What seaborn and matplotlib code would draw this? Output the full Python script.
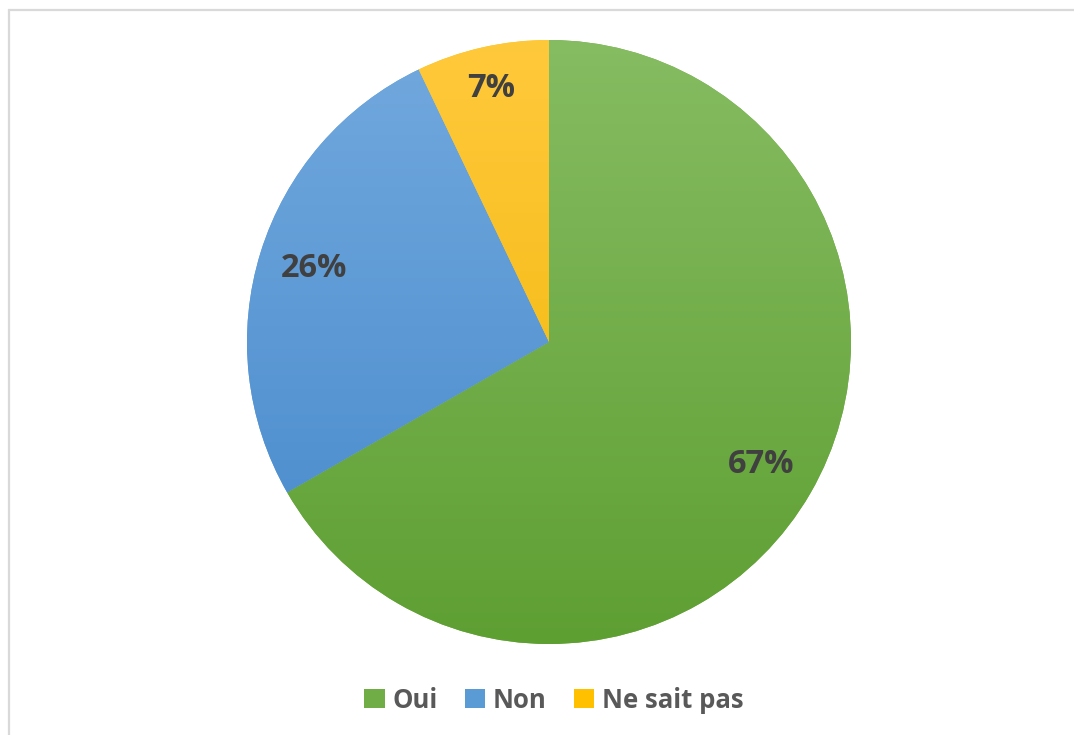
import numpy as np
import matplotlib
matplotlib.use("Agg")
import matplotlib.pyplot as plt
import seaborn as sns
from matplotlib.colors import LinearSegmentedColormap
from matplotlib.patches import Rectangle, Patch

categories = ["Oui", "Non", "Ne sait pas"]
values = [66.7, 26.2, 7.1]
labels_pct = ["67%", "26%", "7%"]
top_colors = ["#86BC62", "#72A9DE", "#FFC93C"]
bottom_colors = ["#5E9F32", "#4588CB", "#F0B400"]
base_colors = ["#70AD47", "#5B9BD5", "#FFC000"]

sns.set_theme(style="white")
plt.rcParams["font.family"] = ["Open Sans", "DejaVu Sans"]

fig = plt.figure(figsize=(10.74, 7.35), dpi=100)
fig.patch.set_facecolor("white")

# outer frame (only top and left visible)
fig.patches.append(Rectangle((8.5 / 1074, -0.05), 1.2, (735 - 10.5) / 735 + 0.05,
                             transform=fig.transFigure, fill=False,
                             edgecolor="#D9D9D9", linewidth=1.6))

cx, cy, r = 549, 342, 302
ax = fig.add_axes([(cx - r) / 1074, (735 - cy - r) / 735, 2 * r / 1074, 2 * r / 735])
wedges, texts = ax.pie(values, colors=base_colors, startangle=90,
                       counterclock=False, radius=1,
                       wedgeprops=dict(linewidth=0))
ax.set_xlim(-1, 1)
ax.set_ylim(-1, 1)
ax.set_aspect("equal")
ax.axis("off")

grad = np.linspace(0, 1, 256).reshape(-1, 1)
for w, c1, c2 in zip(wedges, top_colors, bottom_colors):
    cmap = LinearSegmentedColormap.from_list("g", [c1, c2])
    im = ax.imshow(grad, cmap=cmap, extent=[-1, 1, -1, 1], origin="upper",
                   aspect="auto", zorder=w.get_zorder() + 0.1)
    im.set_clip_path(w)

dists = [0.81, 0.815, 0.862]
angle = 90.0
total = sum(values)
for v, lab, d in zip(values, labels_pct, dists):
    span = 360.0 * v / total
    mid = np.deg2rad(angle - span / 2)
    ax.text(d * np.cos(mid), d * np.sin(mid), lab, ha="center", va="center",
            fontsize=23.5, fontweight="bold", color="#404040", zorder=10)
    angle -= span

handles = [Patch(facecolor=c, edgecolor="none") for c in base_colors]
leg = fig.legend(handles, categories, loc="center", bbox_to_anchor=(554 / 1074, 1 - 700 / 735),
                 ncol=3, frameon=False, fontsize=18.5, handlelength=0.8, handleheight=0.8,
                 handletextpad=0.3, columnspacing=1.05)
for t in leg.get_texts():
    t.set_color("#595959")
    t.set_fontweight("bold")

fig.savefig("out.png", dpi=100, facecolor="white")
